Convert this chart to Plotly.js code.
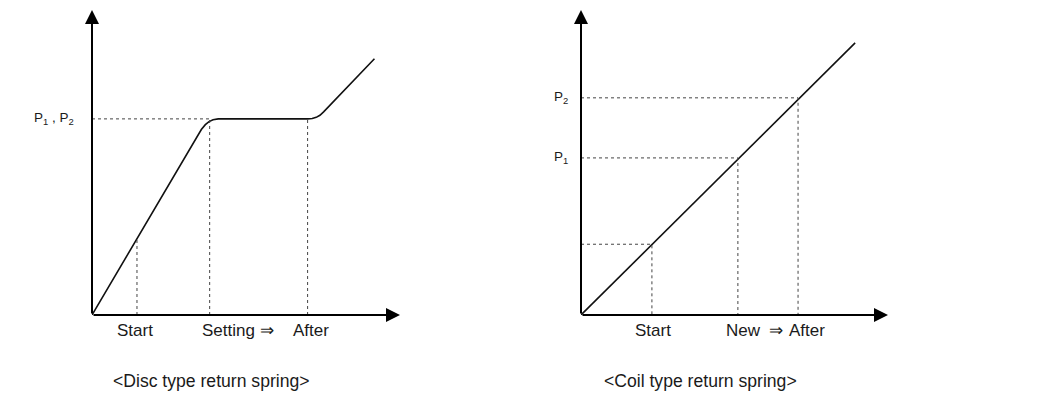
<!DOCTYPE html>
<html>
<head>
<meta charset="utf-8">
<script src="https://cdn.plot.ly/plotly-3.0.1.min.js"></script>
<style>html,body{margin:0;padding:0;background:#fff;}#chart{width:1050px;height:394px;}</style>
</head>
<body>
<div id="chart"></div>
<script>
// ---- Data ----
// Disc type return spring: load vs. deflection curve
const discX = [0, 1.46, 3.28, 3.42, 3.55, 3.68, 3.80, 3.93, 4.10, 7.00, 7.15, 7.28, 7.40, 7.52, 9.17];
const discY = [0, 2.51, 5.64, 5.88, 6.08, 6.24, 6.34, 6.40, 6.43, 6.43, 6.44, 6.48, 6.55, 6.66, 8.40];
// Disc marker points (deflection, load)
const discMarkLabels = ["Start", "Setting \u21D2", "After"];
const discMarkX = [1.46, 3.82, 7.00];
const discMarkY = [2.51, 6.43, 6.43];
const discLoadLabel = "P<sub>1</sub> , P<sub>2</sub>";
const discLoadValue = 6.43;

// Coil type return spring: linear load vs. deflection
const coilX = [0, 8.93];
const coilY = [0, 8.92];
const coilMarkLabels = ["Start", "New  \u21D2", "After"];
const coilMarkX = [2.31, 5.11, 7.07];
const coilMarkY = [2.32, 5.15, 7.12];
const coilLoadLabels = ["", "P<sub>1</sub>", "P<sub>2</sub>"];

// Axis extents (arrow tips)
const axisMax = 10;

const captions = ["&lt;Disc type return spring&gt;", "&lt;Coil type return spring&gt;"];

// ---- Styles ----
const FONT = "Liberation Sans, Arial, Helvetica, sans-serif";
const TXT = "#1a1a1a";
const guideStyle = {color: "#444", width: 1, dash: "dot"};
const curveStyle = {color: "#111", width: 1.6};

const traces = [];
// main curves
traces.push({x: discX, y: discY, xaxis: "x", yaxis: "y", mode: "lines", line: curveStyle, hoverinfo: "skip"});
traces.push({x: coilX, y: coilY, xaxis: "x2", yaxis: "y2", mode: "lines", line: curveStyle, hoverinfo: "skip"});

// disc guides: horizontal load line up to "Setting", verticals at each mark
traces.push({x: [0, discMarkX[1]], y: [discLoadValue, discLoadValue], xaxis: "x", yaxis: "y", mode: "lines", line: guideStyle, hoverinfo: "skip"});
discMarkX.forEach((mx, i) => {
  traces.push({x: [mx, mx], y: [0, discMarkY[i]], xaxis: "x", yaxis: "y", mode: "lines", line: guideStyle, hoverinfo: "skip"});
});
// coil guides: horizontal and vertical to each mark
coilMarkX.forEach((mx, i) => {
  traces.push({x: [0, mx, mx], y: [coilMarkY[i], coilMarkY[i], 0], xaxis: "x2", yaxis: "y2", mode: "lines", line: guideStyle, hoverinfo: "skip"});
});

const annotations = [];
// axes drawn as arrows from the origin to the tip
function axisArrows(xr, yr) {
  const base = {xref: xr, yref: yr, axref: xr, ayref: yr, showarrow: true, arrowhead: 2, arrowsize: 1.4,
                arrowwidth: 2, arrowcolor: "#000", text: "", ax: 0, ay: 0};
  annotations.push(Object.assign({}, base, {x: axisMax, y: 0}));
  annotations.push(Object.assign({}, base, {x: 0, y: axisMax}));
}
axisArrows("x", "y");
axisArrows("x2", "y2");

// x labels (positions tuned to reference layout)
const discLabelShift = [-2, -10, 3.5];
const discLabelAnchor = ["center", "left", "center"];
discMarkLabels.forEach((t, i) => {
  annotations.push({xref: "x", yref: "y", x: discMarkX[i], y: 0, text: t, showarrow: false,
    xanchor: discLabelAnchor[i], yanchor: "middle", xshift: discLabelShift[i], yshift: -15,
    font: {family: FONT, size: 17, color: TXT}});
});
const coilLabelShift = [1, -14, 9];
const coilLabelAnchor = ["center", "left", "center"];
coilMarkLabels.forEach((t, i) => {
  annotations.push({xref: "x2", yref: "y2", x: coilMarkX[i], y: 0, text: t, showarrow: false,
    xanchor: coilLabelAnchor[i], yanchor: "middle", xshift: coilLabelShift[i], yshift: -15,
    font: {family: FONT, size: 17, color: TXT}});
});
// y labels
annotations.push({xref: "x", yref: "y", x: 0, y: discLoadValue, text: discLoadLabel, showarrow: false,
  xanchor: "right", yanchor: "middle", xshift: -16, font: {family: FONT, size: 13.5, color: TXT}});
coilLoadLabels.forEach((t, i) => {
  if (!t) return;
  annotations.push({xref: "x2", yref: "y2", x: 0, y: coilMarkY[i], text: t, showarrow: false,
    xanchor: "right", yanchor: "middle", xshift: -11, font: {family: FONT, size: 13.5, color: TXT}});
});
// captions
const capX = [211 / 1050, 700 / 1050];
captions.forEach((t, i) => {
  annotations.push({xref: "paper", yref: "paper", x: capX[i], y: 1 - 381 / 394, text: t, showarrow: false,
    xanchor: "center", yanchor: "middle", font: {family: FONT, size: 17.6, color: TXT}});
});

const hiddenAxis = {range: [0, 10], showgrid: false, zeroline: false, showline: false, showticklabels: false, ticks: "", fixedrange: true};
const layout = {
  width: 1050, height: 394,
  margin: {l: 0, r: 0, t: 0, b: 0},
  paper_bgcolor: "#fff", plot_bgcolor: "rgba(0,0,0,0)",
  showlegend: false,
  xaxis: Object.assign({}, hiddenAxis, {domain: [92 / 1050, 400 / 1050]}),
  yaxis: Object.assign({}, hiddenAxis, {domain: [79 / 394, 384 / 394]}),
  xaxis2: Object.assign({}, hiddenAxis, {domain: [581 / 1050, 888 / 1050], anchor: "y2"}),
  yaxis2: Object.assign({}, hiddenAxis, {domain: [79 / 394, 384 / 394], anchor: "x2"}),
  annotations: annotations,
  font: {family: FONT, color: TXT}
};
Plotly.newPlot("chart", traces, layout, {staticPlot: true, displayModeBar: false});
</script>
</body>
</html>
